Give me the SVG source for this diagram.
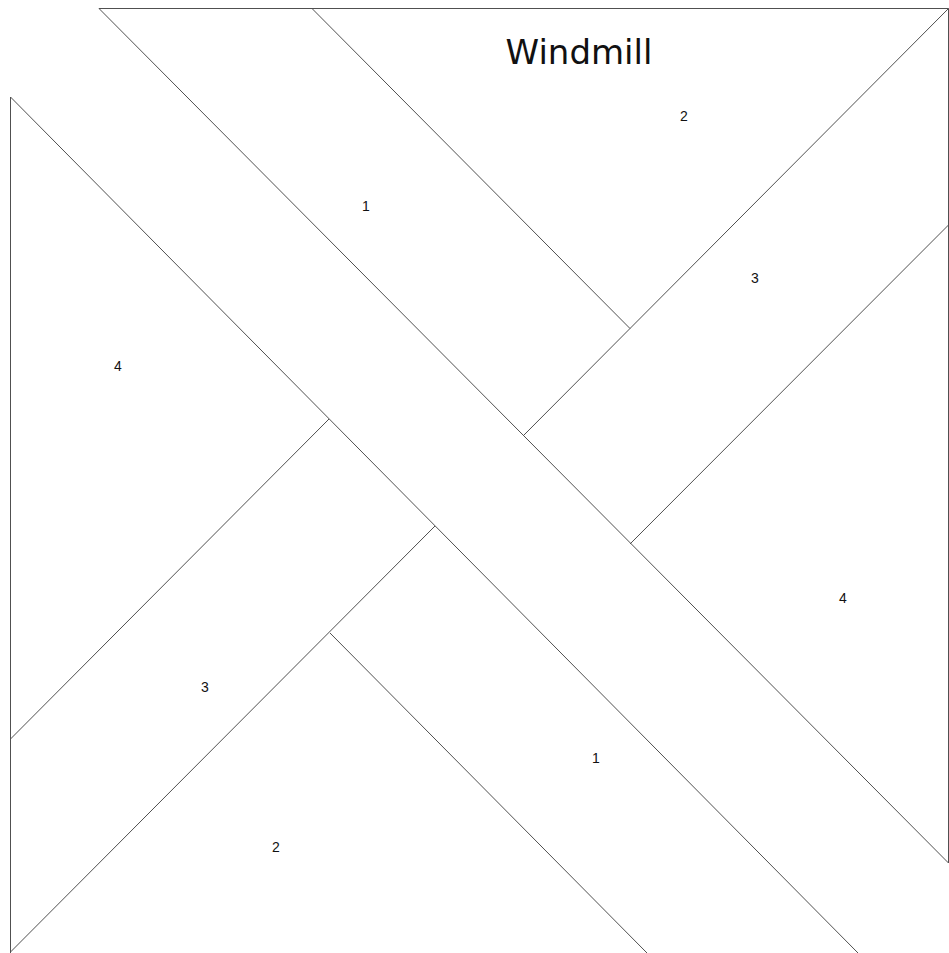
<svg xmlns="http://www.w3.org/2000/svg" width="949" height="953" viewBox="0 0 949 953">
<style>
.ln{stroke:#505050;stroke-width:1;fill:none}
.lbl{font-family:"Liberation Sans",Arial,sans-serif;font-size:14px;fill:#111;text-anchor:middle}
.title{font-family:"DejaVu Sans","Liberation Sans",sans-serif;font-size:34px;fill:#111;text-anchor:middle}
</style>
<rect width="949" height="953" fill="#fff"/>
<g id="lines" class="ln">
<line x1="99" y1="8.5" x2="948.5" y2="8.5"/>
<line x1="948.5" y1="8.5" x2="948.5" y2="863"/>
<line x1="10.5" y1="97" x2="10.5" y2="953"/>
<line x1="99" y1="8.5" x2="948.5" y2="863"/>
<line x1="10.5" y1="97" x2="858" y2="953"/>
<line x1="312" y1="8.5" x2="630" y2="328.5"/>
<line x1="330" y1="633" x2="647" y2="953"/>
<line x1="948.5" y1="8.5" x2="523" y2="436"/>
<line x1="435" y1="526" x2="10.5" y2="952"/>
<line x1="10.5" y1="739" x2="329" y2="419"/>
<line x1="630" y1="544" x2="948.5" y2="225"/>
</g>
<g id="labels">
<text class="title" x="579" y="64">Windmill</text>
<text class="lbl" x="366" y="211">1</text>
<text class="lbl" x="684" y="121">2</text>
<text class="lbl" x="755" y="283">3</text>
<text class="lbl" x="118" y="371">4</text>
<text class="lbl" x="843" y="603">4</text>
<text class="lbl" x="205" y="692">3</text>
<text class="lbl" x="596" y="763">1</text>
<text class="lbl" x="276" y="852">2</text>
</g>
</svg>
